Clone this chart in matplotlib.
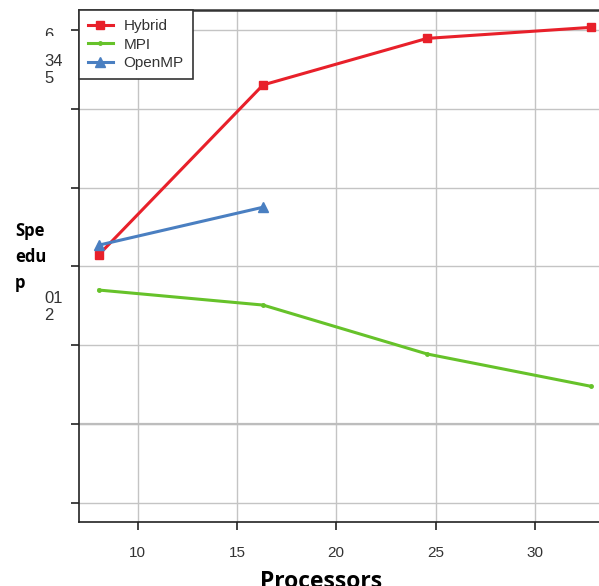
import matplotlib
matplotlib.use("Agg")
import matplotlib.pyplot as plt
from matplotlib.transforms import Bbox

# speedup vs number of processors
procs = [8, 16, 24, 32]
hybrid = [3.15, 5.30, 5.89, 6.03]
mpi = [2.70, 2.51, 1.89, 1.48]
openmp_procs = [8, 16]
openmp = [3.27, 3.75]

x_ticks = [10, 15, 20, 25, 30]
y_ticks = [0, 1, 2, 3, 4, 5, 6]

plt.rcParams['font.family'] = ['Liberation Sans', 'DejaVu Sans']

fig = plt.figure(figsize=(5.99, 5.86), dpi=100)
rect = [79 / 599, 1 - 522 / 586, 1 - 79 / 599, (522 - 10) / 586]
ax = fig.add_axes(rect)

# grid / tick axis
ax.set_xlim(7.05, 33.23)
ax.set_ylim(-0.24, 6.25)
ax.set_xticks(x_ticks)
ax.set_yticks(y_ticks)
ax.set_yticklabels([])
ax.grid(True, color='#c4c4c4', linewidth=1)
ax.axhline(1, color='#bdbdbd', linewidth=1.6, zorder=1)
ax.set_axisbelow(True)

# the lines in the original sit on a slightly wider x scale than the grid
ax2 = ax.twiny()
ax2.set_xlim(7.024, 32.39)
ax2.set_ylim(-0.24, 6.25)
ax2.set_xticks([])
for s in ax2.spines.values():
    s.set_visible(False)

l1, = ax2.plot(procs, hybrid, color='#e8202a', linewidth=2.2, marker='s', markersize=5.5, label='Hybrid', zorder=3)
l2, = ax2.plot(procs, mpi, color='#66c22a', linewidth=2.2, marker='o', markersize=2.5, label='MPI', zorder=3)
l3, = ax2.plot(openmp_procs, openmp, color='#4a7fc1', linewidth=2.2, marker='^', markersize=6.5, label='OpenMP', zorder=3)

ax.spines['right'].set_visible(False)
for side in ['left', 'bottom']:
    ax.spines[side].set_color('#222222')
    ax.spines[side].set_linewidth(1.2)
ax.spines['top'].set_color('#333333')
ax.spines['top'].set_linewidth(1.8)

ax.tick_params(axis='both', direction='out', length=6, width=1.2, color='#222222',
               labelsize=11, labelcolor='#333333')
ax.tick_params(axis='x', pad=11)

leg = ax2.legend(handles=[l1, l2, l3], loc='upper left', bbox_to_anchor=(0, 1), borderaxespad=0,
                 fancybox=False, edgecolor='#333333', framealpha=1, fontsize=11,
                 handlelength=1.6, borderpad=0.6, labelspacing=0.3, handletextpad=0.7)
leg.get_frame().set_linewidth(1.2)
for t in leg.get_texts():
    t.set_color('#333333')

# x label sits partly below the bottom edge, as in the original
fig.text(321 / 599, 1 - 588 / 586, 'Processors', fontsize=16.5, fontweight='bold',
         family=['Open Sans', 'DejaVu Sans'], ha='center', va='baseline')

# garbled y labels as they appear in the original
six = fig.text(44 / 599, 1 - 36 / 586, '6', fontsize=12, color='#333333', va='center', ha='left')
six.set_clip_box(Bbox.from_extents(0, 586 - 36, 79, 586))
six.set_clip_on(True)
fig.text(44 / 599, 1 - 70 / 586, '34\n5', fontsize=12, color='#333333', va='center', ha='left',
         linespacing=1.15)
fig.text(44 / 599, 1 - 307 / 586, '01\n2', fontsize=12, color='#333333', va='center', ha='left',
         linespacing=1.15)
fig.text(15 / 599, 1 - 257 / 586, 'Spe\nedu\np', fontsize=12, fontweight='bold', color='black',
         va='center', ha='left', linespacing=1.55, family=['Open Sans', 'DejaVu Sans'])

fig.savefig('out.png', dpi=100)
